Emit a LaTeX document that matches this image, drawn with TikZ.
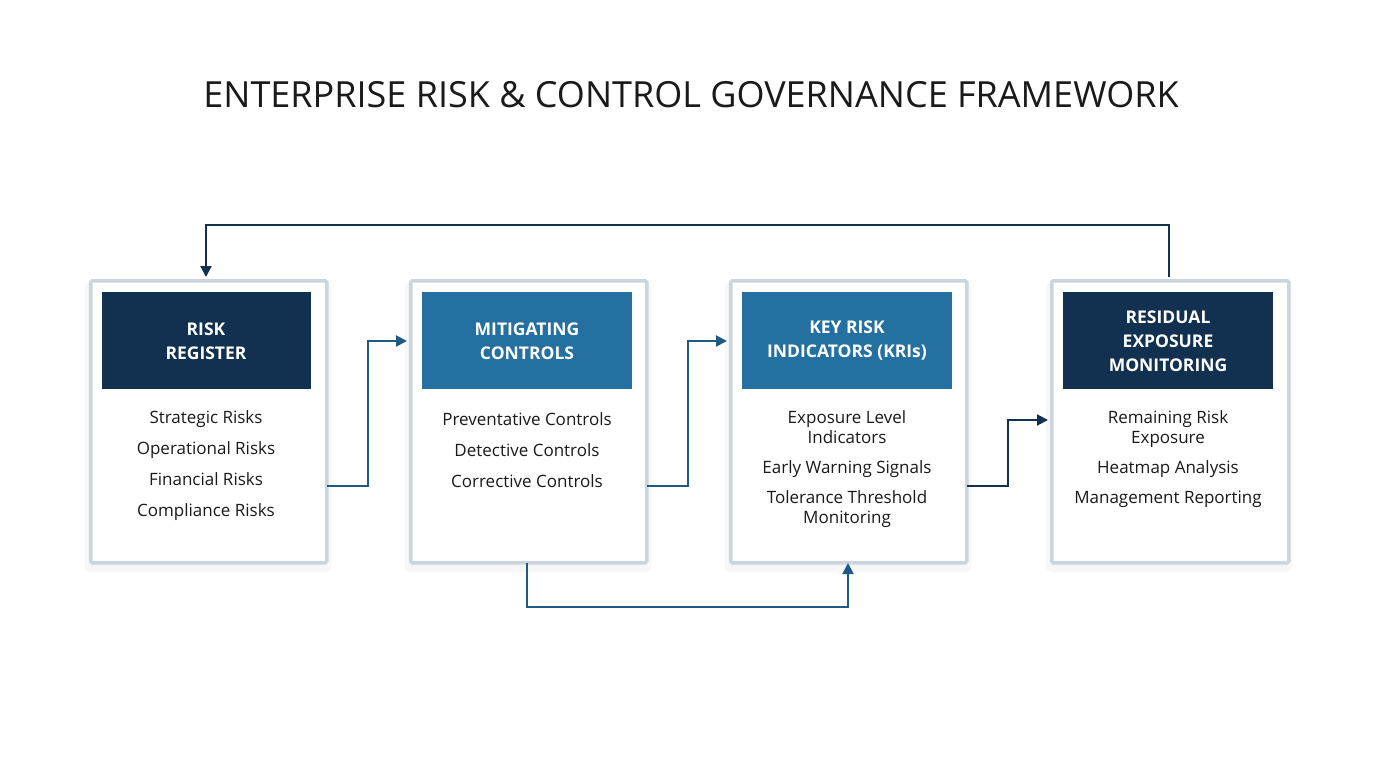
\documentclass[tikz,border=0pt]{standalone}
\usepackage{fontspec}
\setmainfont{Open Sans}
\usetikzlibrary{arrows.meta}
\definecolor{navy}{HTML}{12304F}
\definecolor{midblue}{HTML}{2470A0}
\definecolor{frame}{HTML}{CCD4DE}
\definecolor{line}{HTML}{1F5A85}
\definecolor{txt}{HTML}{1A1A1A}
\begin{document}
\begin{tikzpicture}[x=1pt,y=-1pt,
  card/.style={draw=frame,line width=3.5pt,fill=white,rounded corners=1.5pt},
  head/.style={inner sep=0pt,text=white,font=\fontsize{17.5}{24}\selectfont\bfseries,align=center},
  item/.style={text=txt,font=\fontsize{17}{20}\selectfont,align=center,inner sep=0pt},
  conn/.style={draw=line,line width=2pt,-{Triangle[length=11pt,width=11pt]}}]
\useasboundingbox (0,0) rectangle (1376,768);
\fill[white] (0,0) rectangle (1376,768);
\node[font=\fontsize{36}{40}\selectfont,text=txt] (title) at (691,95) {ENTERPRISE RISK \& CONTROL GOVERNANCE FRAMEWORK};
% soft shadows
\foreach \x in {89,409,729,1050}{
  \fill[black!3,rounded corners=6pt] (\x-4,282) rectangle (\x+242,572);
  \fill[black!4,rounded corners=4pt] (\x-1,282) rectangle (\x+239,567);}
\node[card,minimum width=236,minimum height=282,anchor=north west] (c1) at (89,279) {};
\node[card,minimum width=236,minimum height=282,anchor=north west] (c2) at (409,279) {};
\node[card,minimum width=236,minimum height=282,anchor=north west] (c3) at (729,279) {};
\node[card,minimum width=237,minimum height=282,anchor=north west] (c4) at (1050,279) {};
\fill[navy] (102,292) rectangle (311,389);
\fill[midblue] (422,292) rectangle (632,389);
\fill[midblue] (742,292) rectangle (952,389);
\fill[navy] (1063,292) rectangle (1273,389);
\node[head] (h1) at (206,341) {RISK\\REGISTER};
\node[head] (h2) at (527,341) {MITIGATING\\CONTROLS};
\node[head] (h3) at (847,341) {KEY RISK\\INDICATORS (KRIs)};
\node[head] (h4) at (1168,341) {RESIDUAL\\EXPOSURE\\MONITORING};
\node[item] (i1) at (206,466) {Strategic Risks\\[11pt]Operational Risks\\[11pt]Financial Risks\\[11pt]Compliance Risks};
\node[item] (i2) at (527,450) {Preventative Controls\\[11pt]Detective Controls\\[11pt]Corrective Controls};
\node[item] (i3) at (847,469) {Exposure Level\\Indicators\\[10pt]Early Warning Signals\\[10pt]Tolerance Threshold\\Monitoring};
\node[item] (i4) at (1168,459) {Remaining Risk\\Exposure\\[10pt]Heatmap Analysis\\[10pt]Management Reporting};
\coordinate (a1) at (327,486); \coordinate (b1) at (407,341);
\coordinate (a2) at (647,486); \coordinate (b2) at (727,341);
\coordinate (a3) at (967,486); \coordinate (b3) at (1048,420);
\draw[conn] (a1) -- (368,486) -- (368,341) -- (b1);
\draw[conn] (a2) -- (688,486) -- (688,341) -- (b2);
\draw[conn,draw=navy] (a3) -- (1008,486) -- (1008,420) -- (b3);
\coordinate (f1) at (1169,277); \coordinate (f2) at (206,277);
\draw[conn,draw=navy] (f1) -- (1169,225) -- (206,225) -- (f2);
\coordinate (g1) at (527,563); \coordinate (g2) at (848,563);
\draw[conn] (g1) -- (527,607) -- (848,607) -- (g2);
\end{tikzpicture}
\end{document}
